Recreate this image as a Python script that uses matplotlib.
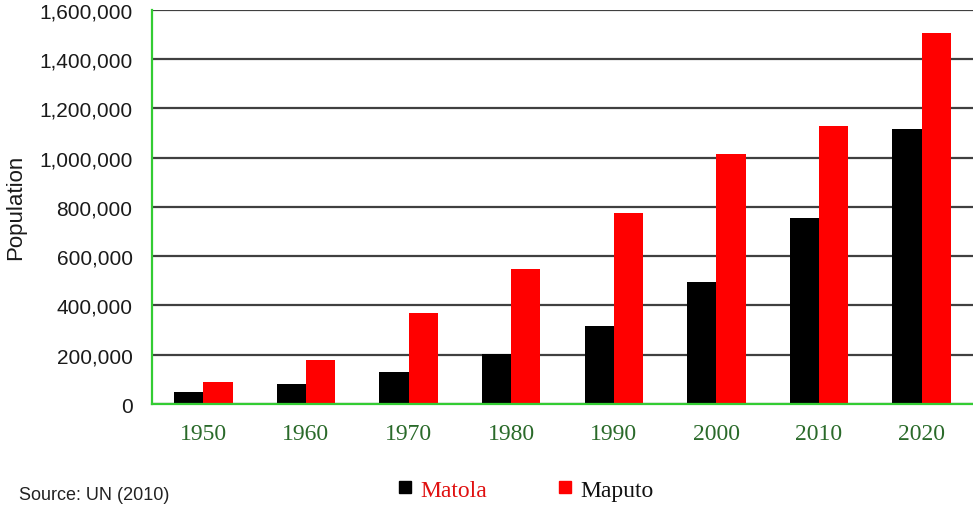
import matplotlib.pyplot as plt
import numpy as np
from matplotlib.lines import Line2D
from matplotlib.ticker import FuncFormatter

years = ['1950', '1960', '1970', '1980', '1990', '2000', '2010', '2020']
matola = [49000, 81000, 130000, 203000, 317000, 496000, 756000, 1118000]
maputo = [89000, 179000, 370000, 549000, 776000, 1016000, 1130000, 1508000]

fig = plt.figure(figsize=(9.73, 5.06), dpi=100)
ax = fig.add_axes([0.1562, 0.1996, 0.8438, 0.7787])

x = np.arange(len(years))
w = 0.285
ax.bar(x - w / 2, matola, width=w, color='black', zorder=3)
ax.bar(x + w / 2, maputo, width=w, color='#ff0000', zorder=3)

ax.set_xlim(-0.5, len(years) - 0.5)
ax.set_ylim(0, 1600000)
ax.set_yticks(np.arange(0, 1600001, 200000))
ax.yaxis.set_major_formatter(FuncFormatter(lambda v, p: f'{int(v):,}'))
ax.grid(axis='y', color='#404040', linewidth=1.6, zorder=0)
ax.set_xticks(x)
ax.set_xticklabels(years, fontfamily='Liberation Serif', fontsize=17, color='#2a6a2a')

for s in ['top', 'right']:
    ax.spines[s].set_visible(False)
for s in ['left', 'bottom']:
    ax.spines[s].set_color('#33cc33')
    ax.spines[s].set_linewidth(1.6)
    ax.spines[s].set_zorder(4)

ax.tick_params(axis='y', length=0, pad=14, labelsize=15, labelcolor='#1a1a1a')
ax.tick_params(axis='x', length=0, pad=14)
for t in ax.get_yticklabels():
    t.set_fontfamily('Liberation Sans')

fig.text(0.016, 0.591, 'Population', rotation=90, ha='center', va='center',
         fontsize=16, fontfamily='Liberation Sans', color='#1a1a1a')

handles = [Line2D([], [], marker='s', color='black', linestyle='none', markersize=8),
           Line2D([], [], marker='s', color='#ff0000', linestyle='none', markersize=8)]
leg = fig.legend(handles, ['Matola', 'Maputo'], loc='center', bbox_to_anchor=(0.54, 0.03),
                 ncol=2, frameon=False, handlelength=0.6, handletextpad=0.35,
                 columnspacing=3.0, prop={'family': 'Liberation Serif', 'size': 17})
leg.get_texts()[0].set_color('#e01010')
leg.get_texts()[1].set_color('#111111')

fig.text(0.02, 0.004, 'Source: UN (2010)', ha='left', va='bottom', fontsize=13,
         fontfamily='Liberation Sans', color='#222222')

fig.savefig('out.png', dpi=100)
